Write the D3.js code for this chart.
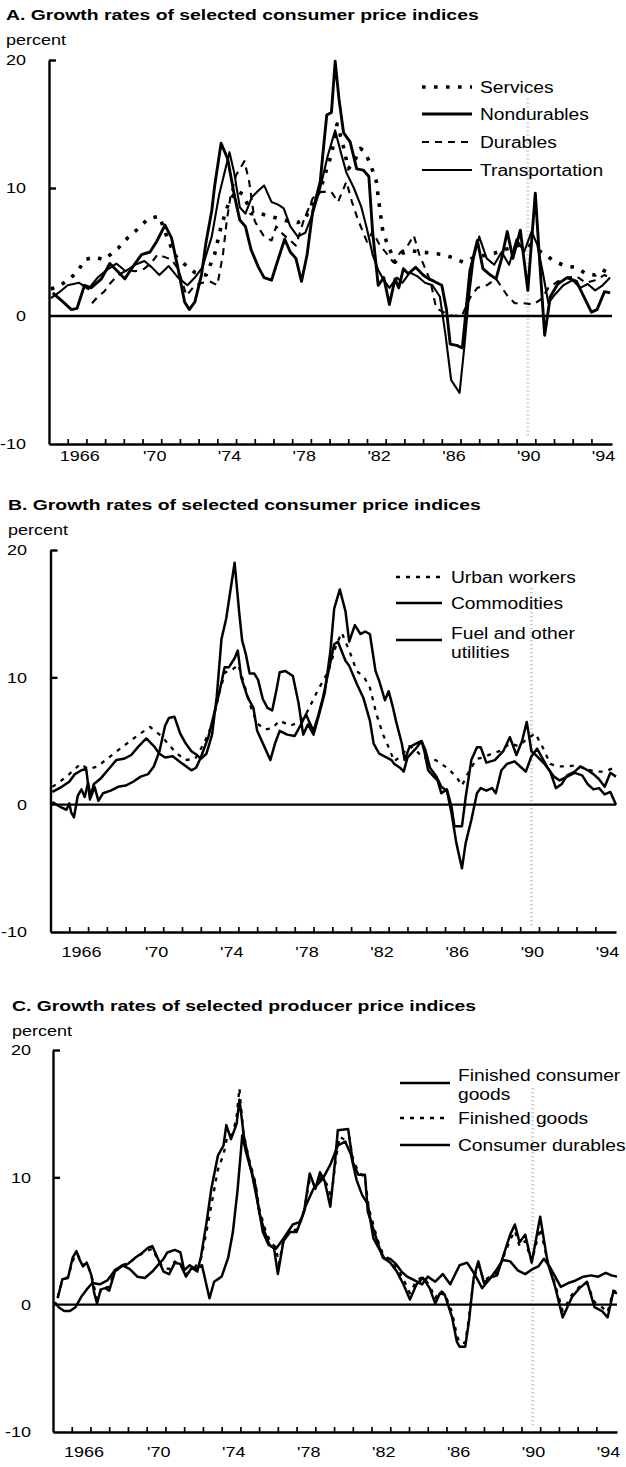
<!DOCTYPE html>
<html>
<head>
<meta charset="utf-8">
<script src="https://cdn.jsdelivr.net/npm/d3@7"></script>
<style>
  body { margin: 0; background: #fff; }
  svg { display: block; }
  text { font-family: "Liberation Sans", Arial, Helvetica, sans-serif; fill: #000; }
</style>
</head>
<body>
<svg id="chart" width="626" height="1467"></svg>
<script>
// ---- data: [year, percent] ----
const yearDomain = [1965, 1995.1];
const yearTicks = d3.range(1966, 1995);
const labelYears = [1966, 1970, 1974, 1978, 1982, 1986, 1990, 1994];
const labelTexts = ["1966", "'70", "'74", "'78", "'82", "'86", "'90", "'94"];
const valueTicks = [-10, 0, 10, 20];

// Panel A
const servicesA = [[1965.1,2.1],[1965.6,2.4],[1966.1,2.9],[1966.55,3.5],[1966.9,4.4],[1967.45,4.6],[1967.95,4.4],[1968.7,5.3],[1969.2,6.1],[1969.75,6.8],[1970.3,7.6],[1970.9,7.8],[1971.3,6.2],[1971.7,4.8],[1972.2,4.1],[1972.8,3.4],[1973.4,3.2],[1973.85,4.8],[1974.2,7.0],[1974.6,8.8],[1975.0,9.8],[1975.4,9.5],[1975.8,8.0],[1976.3,8.0],[1976.8,7.8],[1977.3,7.6],[1977.8,7.4],[1978.3,7.3],[1978.7,7.6],[1979.1,8.9],[1979.5,9.8],[1979.85,11.5],[1980.1,12.6],[1980.4,15.0],[1980.7,13.5],[1981.0,11.5],[1981.3,12.0],[1981.65,13.1],[1981.9,12.8],[1982.2,11.8],[1982.5,10.5],[1982.7,8.2],[1982.85,6.6],[1983.05,5.8],[1983.5,4.2],[1983.9,4.9],[1984.3,5.1],[1984.9,5.0],[1985.5,4.9],[1986.1,4.8],[1986.7,4.5],[1987.15,4.2],[1987.6,4.5],[1988.2,4.7],[1988.8,4.9],[1989.4,5.2],[1990.0,5.5],[1990.6,5.6],[1991.1,5.2],[1991.6,4.7],[1992.0,4.3],[1992.6,3.9],[1993.2,3.8],[1993.7,3.3],[1994.2,3.2],[1994.6,3.6],[1995.0,3.3]];
const nondurablesA = [[1965.2,1.8],[1965.75,1.1],[1966.2,0.5],[1966.5,0.6],[1966.9,2.4],[1967.25,2.2],[1967.8,2.9],[1968.25,4.1],[1968.6,3.6],[1969.05,2.9],[1969.6,4.1],[1969.95,4.8],[1970.4,5.0],[1970.75,5.8],[1971.2,7.1],[1971.55,6.1],[1971.9,3.7],[1972.25,1.1],[1972.5,0.5],[1972.8,1.1],[1973.15,3.2],[1973.4,5.8],[1973.7,8.2],[1973.85,10.1],[1974.2,13.5],[1974.55,12.3],[1974.9,9.5],[1975.2,7.5],[1975.5,7.0],[1975.8,5.2],[1976.2,3.8],[1976.5,3.0],[1976.9,2.8],[1977.2,4.2],[1977.6,6.0],[1977.9,5.0],[1978.2,4.5],[1978.5,2.7],[1978.8,4.8],[1979.1,8.2],[1979.5,10.5],[1979.7,13.5],[1979.85,15.7],[1980.1,15.9],[1980.3,19.9],[1980.5,17.0],[1980.75,14.3],[1981.1,13.6],[1981.45,11.5],[1981.8,11.4],[1982.1,10.9],[1982.3,6.6],[1982.6,2.4],[1982.9,3.0],[1983.2,0.9],[1983.5,2.9],[1983.7,2.2],[1983.95,3.7],[1984.2,3.3],[1984.6,3.8],[1985.0,3.2],[1985.3,2.9],[1985.6,2.7],[1986.0,2.4],[1986.25,0.5],[1986.45,-2.2],[1986.8,-2.3],[1987.1,-2.5],[1987.3,0.5],[1987.5,3.5],[1987.9,5.9],[1988.2,3.7],[1988.6,3.2],[1988.9,2.9],[1989.2,4.5],[1989.5,6.6],[1989.8,4.5],[1990.2,6.7],[1990.6,2.0],[1991.0,9.6],[1991.2,5.0],[1991.5,-1.5],[1991.8,1.5],[1992.2,2.5],[1992.7,3.0],[1993.2,2.7],[1993.6,1.5],[1994.0,0.3],[1994.3,0.5],[1994.7,1.9],[1995.0,1.8]];
const durablesA = [[1967.3,1.0],[1967.6,1.5],[1967.95,1.9],[1968.3,2.6],[1968.7,3.2],[1969.2,3.6],[1969.6,3.5],[1970.1,3.7],[1970.5,4.2],[1970.8,4.8],[1971.2,4.6],[1971.55,4.4],[1971.9,3.7],[1972.35,1.6],[1972.8,2.4],[1973.2,2.6],[1973.6,2.7],[1974.0,2.4],[1974.3,4.8],[1974.5,7.4],[1974.7,9.3],[1975.0,11.0],[1975.45,12.1],[1975.7,10.5],[1976.0,7.4],[1976.5,6.2],[1976.9,5.9],[1977.15,7.0],[1977.5,6.4],[1977.9,5.9],[1978.2,5.5],[1978.6,7.4],[1979.1,9.2],[1979.5,9.7],[1980.1,9.7],[1980.45,8.9],[1980.9,10.5],[1981.2,8.9],[1981.5,7.6],[1982.0,5.8],[1982.3,6.6],[1982.7,5.5],[1983.1,4.8],[1983.4,4.2],[1983.8,5.0],[1984.1,5.3],[1984.5,6.3],[1984.8,4.8],[1985.4,2.7],[1985.7,0.6],[1986.1,0.3],[1986.6,0.0],[1987.1,0.1],[1987.5,1.4],[1987.9,2.2],[1988.4,2.4],[1988.9,2.9],[1989.5,1.6],[1989.9,1.0],[1990.4,1.0],[1990.9,0.9],[1991.3,1.3],[1991.7,2.2],[1992.2,2.7],[1992.7,3.0],[1993.2,3.1],[1993.7,2.6],[1994.2,2.8],[1994.7,3.2],[1995.0,3.0]];
const transportationA = [[1965.1,1.4],[1965.5,1.8],[1966.0,2.4],[1966.6,2.6],[1967.1,2.1],[1967.6,3.0],[1968.1,3.6],[1968.6,4.1],[1969.1,3.5],[1969.6,4.0],[1970.1,4.3],[1970.5,3.8],[1970.9,3.2],[1971.4,3.9],[1971.9,3.0],[1972.4,2.4],[1972.8,3.0],[1973.2,3.8],[1973.7,6.2],[1974.1,9.5],[1974.35,11.0],[1974.65,12.8],[1974.9,11.2],[1975.2,8.5],[1975.5,8.0],[1975.85,9.3],[1976.2,9.8],[1976.5,10.2],[1976.9,8.9],[1977.25,8.7],[1977.55,8.4],[1977.9,7.0],[1978.3,6.2],[1978.7,6.5],[1979.1,8.0],[1979.5,10.0],[1979.9,12.5],[1980.3,14.5],[1980.6,12.8],[1980.9,11.2],[1981.3,10.0],[1981.7,8.5],[1982.0,6.8],[1982.3,4.8],[1982.6,3.6],[1982.9,2.8],[1983.2,2.2],[1983.6,3.0],[1983.9,2.6],[1984.3,3.4],[1984.7,3.1],[1985.1,2.6],[1985.5,2.4],[1985.9,1.5],[1986.2,-1.5],[1986.5,-5.0],[1986.95,-6.0],[1987.2,-2.5],[1987.45,1.5],[1987.7,4.5],[1988.0,6.2],[1988.4,4.5],[1988.8,4.0],[1989.2,5.0],[1989.6,4.0],[1990.0,6.0],[1990.4,5.0],[1990.8,6.6],[1991.1,5.6],[1991.4,3.4],[1991.7,1.0],[1992.0,1.6],[1992.5,2.4],[1993.0,2.8],[1993.4,2.2],[1993.8,2.5],[1994.2,2.0],[1994.6,2.4],[1995.0,3.0]];

// Panel B
const urbanB = [[1965.1,1.4],[1965.5,1.8],[1966.0,2.4],[1966.6,3.2],[1967.0,2.8],[1967.5,3.0],[1968.1,3.7],[1968.8,4.5],[1969.6,5.4],[1970.3,6.1],[1970.9,5.4],[1971.6,4.2],[1972.15,3.5],[1972.7,3.6],[1973.2,4.9],[1973.6,6.3],[1974.0,8.9],[1974.3,10.4],[1974.6,10.5],[1975.0,11.0],[1975.3,9.5],[1975.7,7.5],[1976.0,6.4],[1976.4,5.9],[1976.8,6.0],[1977.2,6.6],[1977.75,6.2],[1978.1,6.4],[1978.5,6.8],[1979.2,8.9],[1979.8,10.5],[1980.2,12.5],[1980.5,13.5],[1980.9,12.1],[1981.3,10.5],[1981.7,10.0],[1982.0,9.2],[1982.35,7.1],[1982.7,5.5],[1983.0,4.5],[1983.3,3.4],[1983.7,3.9],[1984.1,4.6],[1984.5,4.2],[1984.8,3.7],[1985.5,3.5],[1986.1,2.9],[1986.6,2.2],[1986.9,1.5],[1987.3,2.7],[1987.7,3.6],[1988.0,3.7],[1988.5,4.0],[1988.9,4.2],[1989.45,4.8],[1989.9,4.6],[1990.4,5.2],[1990.8,5.6],[1991.2,4.5],[1991.6,3.2],[1992.0,3.0],[1992.5,3.0],[1993.0,3.1],[1993.5,2.8],[1994.0,2.6],[1994.5,2.6],[1995.0,2.9]];
const commoditiesB = [[1965.1,1.0],[1965.6,1.4],[1966.0,1.8],[1966.3,2.4],[1966.65,2.7],[1966.9,2.8],[1967.1,0.4],[1967.3,1.6],[1967.7,2.1],[1968.1,2.8],[1968.5,3.5],[1968.9,3.6],[1969.3,3.9],[1969.7,4.6],[1970.1,5.2],[1970.5,4.6],[1970.8,4.0],[1971.1,3.7],[1971.5,3.8],[1971.95,3.3],[1972.5,2.7],[1972.75,2.9],[1973.0,3.7],[1973.4,5.3],[1973.7,7.1],[1974.0,8.9],[1974.27,10.8],[1974.5,10.8],[1974.8,11.5],[1974.97,12.1],[1975.15,10.0],[1975.5,8.4],[1975.8,7.6],[1976.0,5.8],[1976.4,4.5],[1976.7,3.5],[1976.95,4.8],[1977.2,5.8],[1977.6,5.5],[1978.0,5.4],[1978.3,6.2],[1978.6,7.1],[1978.8,6.4],[1979.0,5.8],[1979.25,7.0],[1979.5,8.4],[1979.8,10.5],[1980.1,12.6],[1980.3,12.8],[1980.7,11.3],[1980.9,10.9],[1981.3,9.5],[1981.65,8.4],[1982.0,6.6],[1982.2,4.8],[1982.5,4.0],[1982.9,3.7],[1983.15,3.5],[1983.3,3.2],[1983.6,2.9],[1983.8,2.6],[1984.0,3.7],[1984.5,4.5],[1984.75,5.0],[1984.9,4.2],[1985.1,2.7],[1985.4,2.2],[1985.6,1.9],[1985.8,0.9],[1986.1,1.2],[1986.35,-0.2],[1986.5,-1.7],[1986.9,-1.7],[1987.1,0.6],[1987.4,3.5],[1987.7,4.5],[1987.9,4.5],[1988.2,3.3],[1988.65,3.5],[1989.1,4.2],[1989.45,5.3],[1989.8,3.9],[1990.1,5.0],[1990.35,6.5],[1990.6,4.2],[1990.9,3.8],[1991.3,3.2],[1991.6,2.6],[1991.9,1.3],[1992.2,1.6],[1992.5,2.3],[1992.9,2.6],[1993.2,3.0],[1993.6,2.7],[1993.9,2.4],[1994.2,2.0],[1994.5,1.4],[1994.8,2.5],[1995.1,2.2]];
const fuelB = [[1965.1,0.2],[1965.55,-0.2],[1965.85,-0.4],[1966.0,0.1],[1966.1,-0.6],[1966.25,-1.0],[1966.45,0.7],[1966.65,1.2],[1966.82,0.6],[1967.0,1.7],[1967.15,0.6],[1967.35,1.4],[1967.55,0.3],[1967.8,0.9],[1968.2,1.1],[1968.6,1.4],[1969.0,1.5],[1969.4,1.8],[1969.8,2.2],[1970.2,2.4],[1970.5,3.0],[1970.8,4.2],[1971.1,6.2],[1971.3,6.8],[1971.6,6.9],[1971.9,5.6],[1972.2,4.8],[1972.5,4.2],[1972.8,3.9],[1973.0,3.6],[1973.3,4.0],[1973.6,5.5],[1973.85,8.5],[1974.1,13.0],[1974.35,14.6],[1974.8,19.0],[1975.05,15.0],[1975.2,12.9],[1975.4,11.8],[1975.6,10.3],[1975.85,10.3],[1976.05,9.8],[1976.3,8.3],[1976.55,7.6],[1976.8,7.4],[1977.0,8.8],[1977.2,10.4],[1977.5,10.5],[1977.9,10.1],[1978.2,8.0],[1978.45,5.5],[1978.7,6.3],[1979.0,5.5],[1979.3,7.1],[1979.6,8.8],[1979.9,12.1],[1980.1,15.4],[1980.4,16.9],[1980.7,15.2],[1980.9,12.8],[1981.2,14.1],[1981.5,13.4],[1981.75,13.6],[1982.0,13.4],[1982.3,10.5],[1982.5,9.7],[1982.8,8.2],[1983.0,8.9],[1983.2,7.8],[1983.4,6.5],[1983.7,4.8],[1983.85,3.5],[1984.1,4.5],[1984.45,4.8],[1984.75,5.0],[1984.95,4.3],[1985.2,2.9],[1985.55,2.2],[1985.8,1.4],[1986.1,1.1],[1986.35,-0.7],[1986.6,-3.0],[1986.9,-5.0],[1987.1,-3.0],[1987.4,-1.2],[1987.7,0.9],[1987.9,1.3],[1988.2,1.1],[1988.5,1.3],[1988.7,0.9],[1989.0,2.7],[1989.3,3.2],[1989.7,3.4],[1990.0,3.0],[1990.3,2.6],[1990.6,3.8],[1990.9,4.4],[1991.2,3.6],[1991.5,2.8],[1991.8,2.2],[1992.1,1.9],[1992.5,2.2],[1992.9,2.5],[1993.3,2.3],[1993.6,1.6],[1993.9,1.2],[1994.2,1.3],[1994.5,0.8],[1994.8,1.0],[1995.1,0.0]];

// Panel C
const consumerGoodsC = [[1965.25,0.5],[1965.5,2.0],[1965.8,2.1],[1966.05,3.7],[1966.25,4.2],[1966.4,3.6],[1966.6,3.0],[1966.8,3.3],[1967.05,2.3],[1967.2,0.9],[1967.35,0.1],[1967.55,1.2],[1967.8,1.3],[1968.0,1.1],[1968.3,2.6],[1968.65,3.0],[1969.0,3.2],[1969.4,3.7],[1969.7,4.0],[1970.1,4.5],[1970.3,4.6],[1970.6,3.6],[1970.9,2.6],[1971.2,2.4],[1971.5,3.3],[1971.8,3.2],[1972.1,2.2],[1972.4,2.9],[1972.7,2.6],[1972.9,3.8],[1973.2,6.5],[1973.45,9.1],[1973.8,11.7],[1974.1,12.5],[1974.25,14.1],[1974.5,13.0],[1974.8,14.2],[1974.95,16.1],[1975.2,13.1],[1975.5,11.0],[1975.8,9.4],[1976.0,7.3],[1976.3,5.7],[1976.55,4.7],[1976.8,4.4],[1977.0,2.4],[1977.3,5.0],[1977.65,5.7],[1978.0,5.7],[1978.4,7.3],[1978.7,10.3],[1979.0,9.1],[1979.25,10.4],[1979.5,9.7],[1979.8,7.7],[1980.05,11.2],[1980.2,13.7],[1980.75,13.8],[1981.0,11.2],[1981.3,10.2],[1981.65,10.2],[1981.8,7.3],[1982.3,5.0],[1982.6,3.7],[1983.0,3.3],[1983.35,2.6],[1983.7,1.6],[1984.05,0.4],[1984.4,1.6],[1984.75,2.1],[1985.1,1.3],[1985.4,0.1],[1985.65,0.9],[1985.9,0.8],[1986.3,-1.0],[1986.55,-2.9],[1986.7,-3.3],[1987.0,-3.3],[1987.2,-1.3],[1987.45,2.1],[1987.7,3.4],[1988.0,1.7],[1988.3,2.1],[1988.7,2.3],[1989.0,3.7],[1989.4,5.5],[1989.65,6.3],[1989.9,4.9],[1990.2,5.5],[1990.55,3.3],[1991.0,6.9],[1991.4,3.3],[1991.8,1.4],[1992.2,-1.0],[1992.7,0.6],[1993.1,1.3],[1993.5,1.8],[1993.9,-0.2],[1994.3,-0.5],[1994.6,-1.0],[1994.9,1.0],[1995.1,0.9]];
const finishedGoodsC = [[1965.25,0.6],[1965.5,1.9],[1965.8,2.2],[1966.1,3.6],[1966.3,4.0],[1966.6,3.1],[1966.85,3.2],[1967.1,2.0],[1967.35,0.4],[1967.6,1.3],[1968.0,1.4],[1968.3,2.7],[1968.7,3.1],[1969.1,3.3],[1969.5,3.8],[1970.0,4.2],[1970.3,4.4],[1970.6,3.5],[1970.9,2.9],[1971.2,2.8],[1971.5,3.4],[1971.8,3.1],[1972.1,2.4],[1972.5,2.8],[1972.9,3.6],[1973.2,5.8],[1973.5,8.2],[1973.8,10.6],[1974.1,11.8],[1974.3,13.2],[1974.6,13.4],[1974.8,14.8],[1974.95,17.0],[1975.15,13.6],[1975.45,11.5],[1975.8,9.6],[1976.0,7.6],[1976.3,6.0],[1976.6,4.9],[1976.9,4.5],[1977.05,3.2],[1977.3,5.0],[1977.7,5.8],[1978.0,5.9],[1978.4,7.4],[1978.7,9.8],[1979.0,9.3],[1979.3,10.0],[1979.6,9.5],[1979.85,8.4],[1980.1,11.5],[1980.3,13.2],[1980.6,12.9],[1980.8,13.2],[1981.0,11.5],[1981.3,10.4],[1981.65,10.0],[1981.85,7.6],[1982.3,5.2],[1982.6,4.0],[1983.0,3.5],[1983.35,2.9],[1983.7,2.0],[1984.05,0.9],[1984.4,1.9],[1984.75,2.2],[1985.1,1.5],[1985.4,0.5],[1985.65,1.1],[1985.9,0.9],[1986.3,-0.6],[1986.55,-2.4],[1986.7,-3.0],[1987.0,-3.0],[1987.2,-1.0],[1987.45,2.0],[1987.7,3.1],[1988.0,1.9],[1988.3,2.2],[1988.7,2.5],[1989.0,3.6],[1989.4,5.1],[1989.65,5.8],[1989.9,4.6],[1990.2,5.0],[1990.55,3.4],[1991.0,6.0],[1991.4,3.4],[1991.8,1.6],[1992.2,-0.5],[1992.7,0.8],[1993.1,1.4],[1993.5,1.7],[1993.9,0.2],[1994.3,-0.2],[1994.6,-0.6],[1994.9,1.1],[1995.1,1.0]];
const durablesC = [[1965.1,0.2],[1965.3,-0.2],[1965.6,-0.5],[1965.9,-0.5],[1966.2,-0.2],[1966.5,0.6],[1966.8,1.2],[1967.1,1.7],[1967.5,1.6],[1967.9,1.9],[1968.3,2.7],[1968.7,3.1],[1969.1,2.8],[1969.5,2.2],[1969.9,2.1],[1970.3,2.6],[1970.6,3.1],[1970.9,3.6],[1971.1,4.1],[1971.5,4.3],[1971.8,4.1],[1972.0,2.7],[1972.3,3.1],[1972.6,2.8],[1972.95,3.1],[1973.15,1.8],[1973.35,0.5],[1973.6,1.8],[1974.0,2.2],[1974.35,3.7],[1974.6,5.7],[1974.85,9.0],[1975.1,13.3],[1975.3,12.0],[1975.6,10.4],[1975.95,7.8],[1976.2,5.7],[1976.5,4.7],[1976.9,4.4],[1977.3,5.2],[1977.8,6.3],[1978.2,6.5],[1978.5,7.8],[1978.9,9.1],[1979.4,9.9],[1979.8,11.0],[1980.2,12.5],[1980.6,12.8],[1980.9,11.8],[1981.2,9.8],[1981.5,8.6],[1981.8,7.9],[1982.1,5.2],[1982.4,4.4],[1982.7,3.6],[1983.0,3.6],[1983.3,3.2],[1983.6,2.6],[1983.9,2.2],[1984.3,1.9],[1984.7,1.6],[1985.0,2.2],[1985.4,1.8],[1985.8,2.4],[1986.2,1.6],[1986.7,3.1],[1987.1,3.3],[1987.5,2.4],[1987.9,1.3],[1988.3,2.0],[1988.7,2.8],[1989.0,3.5],[1989.4,3.4],[1989.8,2.7],[1990.2,2.4],[1990.6,2.8],[1990.9,3.0],[1991.2,3.6],[1991.5,3.0],[1991.8,2.2],[1992.1,1.4],[1992.5,1.7],[1992.9,1.9],[1993.3,2.2],[1993.7,2.3],[1994.1,2.2],[1994.5,2.5],[1994.8,2.3],[1995.1,2.2]];

// ---- styles ----
const STYLE = {
  bigDots: { width: 3.6, dash: "3.6,8.4" },
  thick: { width: 2.9, dash: null },
  thin: { width: 2.1, dash: null },
  dashes: { width: 2.1, dash: "7,6" },
  shortDash: { width: 2.3, dash: "4,6" },
  solid: { width: 2.5, dash: null },
};
const TEXT_STRETCH = 1.2;
const TITLE_STRETCH = 1.25;

const PANELS = [
  {
    title: "A. Growth rates of selected consumer price indices",
    left: 49, right: 612, top: 60, bottom: 444,
    textX: 6, titleY: 20, unitY: 45, tickLabelY: 461, yLabelX: 26,
    legend: { x1: 422, x2: 472, textX: 480 },
    series: [
      { name: ["Services"], data: servicesA, style: STYLE.bigDots, ly: 87 },
      { name: ["Nondurables"], data: nondurablesA, style: STYLE.thick, ly: 114 },
      { name: ["Durables"], data: durablesA, style: STYLE.dashes, ly: 142 },
      { name: ["Transportation"], data: transportationA, style: STYLE.thin, ly: 170 },
    ],
  },
  {
    title: "B. Growth rates of selected consumer price indices",
    left: 50.5, right: 616, top: 550, bottom: 932,
    textX: 8, titleY: 510, unitY: 535, tickLabelY: 957, yLabelX: 27,
    legend: { x1: 396, x2: 442, textX: 451 },
    series: [
      { name: ["Urban workers"], data: urbanB, style: STYLE.shortDash, ly: 577 },
      { name: ["Commodities"], data: commoditiesB, style: STYLE.solid, ly: 603 },
      { name: ["Fuel and other", "utilities"], data: fuelB, style: STYLE.solid, ly: 633, sampleY: 640 },
    ],
  },
  {
    title: "C. Growth rates of selected producer price indices",
    left: 53, right: 617, top: 1050, bottom: 1432,
    textX: 12, titleY: 1011, unitY: 1036, tickLabelY: 1457, yLabelX: 31,
    legend: { x1: 400, x2: 450, textX: 458 },
    series: [
      { name: ["Finished consumer", "goods"], data: consumerGoodsC, style: STYLE.solid, ly: 1075, sampleY: 1083 },
      { name: ["Finished goods"], data: finishedGoodsC, style: STYLE.shortDash, ly: 1118 },
      { name: ["Consumer durables"], data: durablesC, style: STYLE.solid, ly: 1145 },
    ],
  },
];

const svg = d3.select("#chart");

// widen text a little: the scanned lettering is broader than Arial
function stretchText(sel, k) {
  sel.each(function () {
    const w = this.getComputedTextLength();
    d3.select(this).attr("textLength", w * k).attr("lengthAdjust", "spacingAndGlyphs");
  });
}

function applyStyle(sel, style) {
  sel.attr("fill", "none")
    .attr("stroke", "#000")
    .attr("stroke-width", style.width)
    .attr("stroke-linejoin", "round")
    .attr("stroke-dasharray", style.dash);
}

PANELS.forEach((panel) => {
  const g = svg.append("g");
  const x = d3.scaleLinear().domain(yearDomain).range([panel.left, panel.right]);
  const y = d3.scaleLinear().domain([-10, 20]).range([panel.bottom, panel.top]);

  // faint speckled band left by the scan around the 1990 recession
  g.append("line")
    .attr("x1", x(1990.6)).attr("x2", x(1990.6))
    .attr("y1", y(17)).attr("y2", y(-9.5))
    .attr("stroke", "#bdbdbd").attr("stroke-width", 3)
    .attr("stroke-dasharray", "1,3");

  g.append("text")
    .attr("x", panel.textX).attr("y", panel.titleY)
    .attr("font-size", 15.5).attr("font-weight", "bold")
    .text(panel.title)
    .call(stretchText, TITLE_STRETCH);

  g.append("text")
    .attr("x", panel.textX).attr("y", panel.unitY)
    .attr("font-size", 15)
    .text("percent")
    .call(stretchText, TEXT_STRETCH);

  // y labels
  g.selectAll(".ylab").data(valueTicks).join("text")
    .attr("x", panel.yLabelX).attr("y", (d) => y(d)).attr("dy", "0.36em")
    .attr("text-anchor", "end").attr("font-size", 15)
    .text((d) => d)
    .call(stretchText, TEXT_STRETCH);

  // left axis with inside ticks at 10 and 20
  const yAxis = g.append("g")
    .attr("transform", `translate(${panel.left},0)`)
    .call(d3.axisRight(y).tickValues([10, 20]).tickSizeInner(7).tickSizeOuter(0).tickFormat(""));
  yAxis.select(".domain").attr("stroke-width", 2.4);
  yAxis.selectAll(".tick line").attr("stroke-width", 2.4);

  // bottom axis with small upward ticks every year
  const xAxis = g.append("g")
    .attr("transform", `translate(0,${y(-10)})`)
    .call(d3.axisBottom(x).tickValues(yearTicks).tickSizeInner(-5).tickSizeOuter(0).tickFormat(""));
  xAxis.select(".domain").attr("stroke-width", 2.4);
  xAxis.selectAll(".tick line").attr("stroke-width", 1.7);

  g.selectAll(".xlab").data(labelYears).join("text")
    .attr("x", (d) => x(d + 0.65)).attr("y", panel.tickLabelY)
    .attr("text-anchor", "middle").attr("font-size", 15)
    .text((d, i) => labelTexts[i])
    .call(stretchText, TEXT_STRETCH);

  // zero line
  g.append("line")
    .attr("x1", x(yearDomain[0])).attr("x2", x(yearDomain[1]))
    .attr("y1", y(0)).attr("y2", y(0))
    .attr("stroke", "#000").attr("stroke-width", 2.4);

  const line = d3.line().x((d) => x(d[0])).y((d) => y(d[1]));

  panel.series.forEach((s) => {
    g.append("path").datum(s.data).attr("d", line).call(applyStyle, s.style);

    const sy = s.sampleY !== undefined ? s.sampleY : s.ly;
    g.append("line")
      .attr("x1", panel.legend.x1).attr("x2", panel.legend.x2)
      .attr("y1", sy).attr("y2", sy)
      .call(applyStyle, s.style);

    s.name.forEach((txt, i) => {
      g.append("text")
        .attr("x", panel.legend.textX).attr("y", s.ly + i * 19).attr("dy", "0.36em")
        .attr("font-size", 16)
        .text(txt)
        .call(stretchText, TEXT_STRETCH);
    });
  });
});
</script>
</body>
</html>
